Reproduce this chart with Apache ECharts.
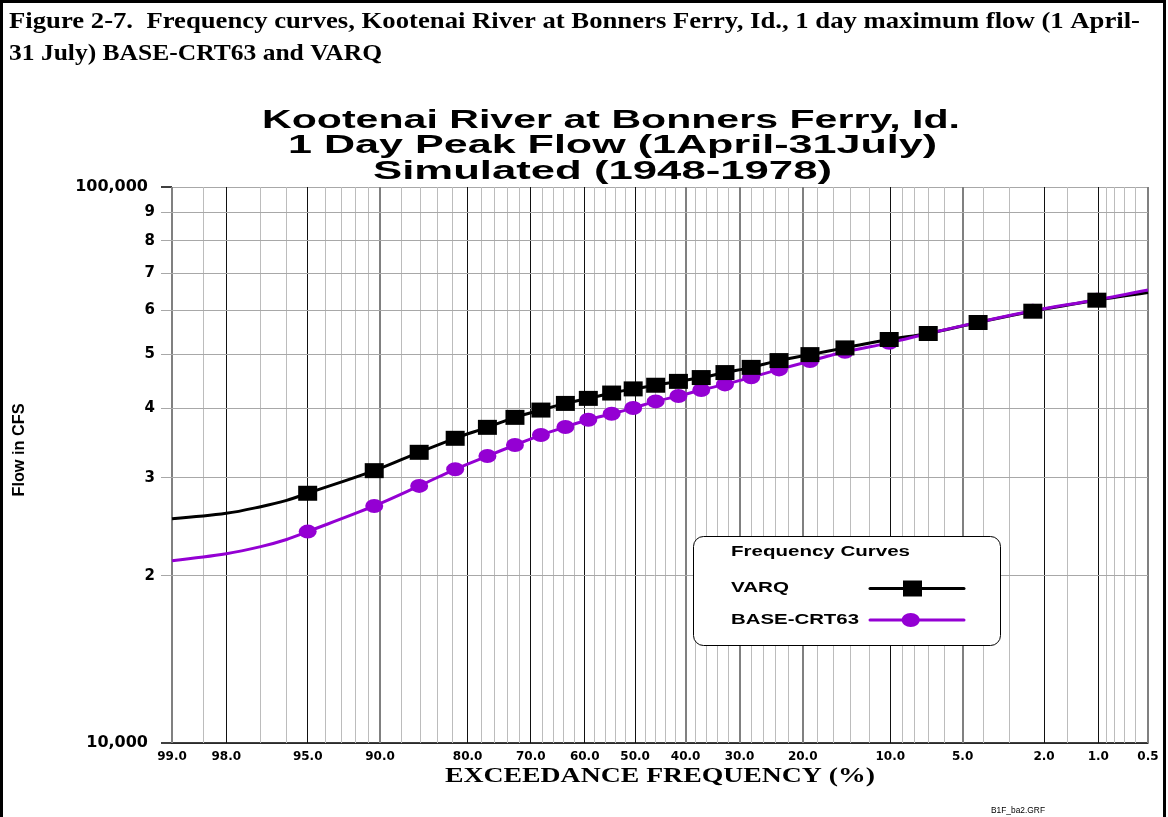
<!DOCTYPE html>
<html><head><meta charset="utf-8">
<script src="https://cdn.jsdelivr.net/npm/echarts@6/dist/echarts.min.js"></script>
<style>html,body{margin:0;padding:0;background:#fff;}#c{width:1168px;height:817px;}</style>
</head><body><div id="c"></div>
<script>
// ---------------- data ----------------
// exceedance frequency (%) of the plotted points (markers)
const exceedancePct = [95.0, 90.5, 86.1, 81.7, 77.1, 72.7, 68.2, 63.7, 59.3, 54.7, 50.4, 45.9, 41.4, 37.0, 32.6, 28.0, 23.5, 19.0, 14.6, 10.1, 7.05, 4.25, 2.29, 1.02];
const varqFlow = [28130, 30890, 33330, 35320, 36960, 38520, 39700, 40810, 41670, 42600, 43340, 44000, 44710, 45420, 46370, 47380, 48730, 49950, 51360, 53180, 54520, 57060, 59790, 62580];
const baseFlow = [24000, 26690, 29000, 31070, 32820, 34350, 35800, 37010, 38140, 39100, 40030, 41150, 42070, 43130, 44150, 45460, 46980, 48630, 50530, 52440, 54500, 57100, 59900, 62700];
// curve points without markers (tails of the frequency curves)
const curveTailPct = [99.0, 98.0, 97.0, 96.0, 0.5];
const varqTailFlow = [25310, 25890, 26610, 27310, 64600];
const baseTailFlow = [21280, 21900, 22550, 23230, 65300];

// axis ticks
const xTickPct = [99, 98, 95, 90, 80, 70, 60, 50, 40, 30, 20, 10, 5, 2, 1, 0.5];
const xTickLabels = ['99.0', '98.0', '95.0', '90.0', '80.0', '70.0', '60.0', '50.0', '40.0', '30.0', '20.0', '10.0', '5.0', '2.0', '1.0', '0.5'];
const gridMinorPct = [98.5, 97, 96, 94, 93, 92, 91, 88, 86, 84, 82, 78, 76, 74, 72, 68, 66, 64, 62, 58, 56, 54, 52, 48, 46, 44, 42, 38, 36, 34, 32, 28, 26, 24, 22, 18, 16, 14, 12, 9, 8, 7, 6, 4, 3, 1.5, 0.9, 0.8, 0.7, 0.6];
const gridBlackPct = [98, 95, 80, 70, 60, 50, 10, 2, 1];
const gridGrayPct = [99, 90, 40, 30, 20, 5, 0.5];
const yMinorFlow = [20000, 30000, 40000, 50000, 60000, 70000, 80000, 90000];
const yMinorLabels = ['2', '3', '4', '5', '6', '7', '8', '9'];
const Y_MIN = 10000, Y_MAX = 100000;

// ---------------- probability (normal) scale transform ----------------
function normInv(p) {
  const a = [-3.969683028665376e+01, 2.209460984245205e+02, -2.759285104469687e+02, 1.383577518672690e+02, -3.066479806614716e+01, 2.506628277459239e+00];
  const b = [-5.447609879822406e+01, 1.615858368580409e+02, -1.556989798598866e+02, 6.680131188771972e+01, -1.328068155288572e+01];
  const c = [-7.784894002430293e-03, -3.223964580411365e-01, -2.400758277161838e+00, -2.549732539343734e+00, 4.374664141464968e+00, 2.938163982698783e+00];
  const d = [7.784695709041462e-03, 3.224671290700398e-01, 2.445134137142996e+00, 3.754408661907416e+00];
  const pl = 0.02425, ph = 1 - pl; let q, r;
  if (p < pl) { q = Math.sqrt(-2 * Math.log(p)); return (((((c[0]*q+c[1])*q+c[2])*q+c[3])*q+c[4])*q+c[5]) / ((((d[0]*q+d[1])*q+d[2])*q+d[3])*q+1); }
  if (p <= ph) { q = p - 0.5; r = q*q; return (((((a[0]*r+a[1])*r+a[2])*r+a[3])*r+a[4])*r+a[5])*q / (((((b[0]*r+b[1])*r+b[2])*r+b[3])*r+b[4])*r+1); }
  q = Math.sqrt(-2 * Math.log(1 - p)); return -(((((c[0]*q+c[1])*q+c[2])*q+c[3])*q+c[4])*q+c[5]) / ((((d[0]*q+d[1])*q+d[2])*q+d[3])*q+1);
}
const probit = pct => normInv(1 - pct / 100);
const X_MIN = probit(99), X_MAX = probit(0.5);
const xTickZ = xTickPct.map(probit);

function curve(pcts, flows, tailP, tailF) {
  const pts = pcts.map((p, i) => [probit(p), flows[i]]).concat(tailP.map((p, i) => [probit(p), tailF[i]]));
  pts.sort((u, v) => u[0] - v[0]);
  return pts;
}
const markers = (pcts, flows) => pcts.map((p, i) => [probit(p), flows[i]]);

// ---------------- text fitting helper ----------------
const mctx = document.createElement('canvas').getContext('2d');
function fitText(str, font, targetW) { mctx.font = font; return targetW / mctx.measureText(str).width; }
function txt(str, x, y, size, weight, family, w, align, extra) {
  const font = weight + ' ' + size + 'px ' + family;
  const o = { type: 'text', x: x, y: y, scaleX: fitText(str, font, w), z: 100,
    style: { text: str, font: font, fill: '#000', align: align, textAlign: align, verticalAlign: 'middle', textVerticalAlign: 'middle' } };
  return Object.assign(o, extra || {});
}
const SANS = '"Liberation Sans"', SERIF = '"Liberation Serif"';
const PURPLE = '#9400d3';

const gridData = []
  .concat(gridMinorPct.map(p => [probit(p), Y_MIN, 0]))
  .concat(gridGrayPct.map(p => [probit(p), Y_MIN, 2]))
  .concat(gridBlackPct.map(p => [probit(p), Y_MIN, 1]));
const GRID_STYLES = [{ c: '#bcbcbc', w: 1 }, { c: '#111111', w: 1 }, { c: '#808080', w: 2 }];

const chart = echarts.init(document.getElementById('c'), null, { renderer: 'canvas' });
chart.setOption({
  animation: false,
  backgroundColor: '#ffffff',
  grid: { left: 172, right: 20, top: 187, bottom: 74, containLabel: false, outerBoundsMode: 'none' },
  xAxis: {
    type: 'value', min: X_MIN, max: X_MAX,
    axisLine: { show: true, onZero: false, lineStyle: { color: '#000', width: 1.5 } },
    axisTick: { show: false },
    splitLine: { show: false },
    axisLabel: {
      customValues: xTickZ, margin: 8, color: '#000', fontFamily: 'DejaVu Sans', fontWeight: 'bold', fontSize: 12,
      formatter: v => { let bi = 0, bd = 1e9; xTickZ.forEach((z, i) => { const d = Math.abs(z - v); if (d < bd) { bd = d; bi = i; } }); return xTickLabels[bi]; }
    }
  },
  yAxis: {
    type: 'log', logBase: 10, min: Y_MIN, max: Y_MAX,
    axisLine: { show: false, onZero: false },
    axisTick: { show: true, length: 11, lineStyle: { color: '#000', width: 1.5 } },
    splitLine: { show: true, lineStyle: { color: '#a8a8a8', width: 1 } },
    axisLabel: { margin: 24, color: '#000', fontFamily: 'DejaVu Sans', fontWeight: 'bold', fontSize: 16,
      formatter: v => Math.round(v).toLocaleString('en-US') }
  },
  series: [
    { type: 'custom', name: 'vgrid', silent: true, clip: false, encode: { x: 0, y: 1 }, data: gridData, z: 1,
      renderItem: (params, api) => {
        const z = api.value(0), st = GRID_STYLES[api.value(2)];
        const pb = api.coord([z, Y_MIN]), pt = api.coord([z, Y_MAX]);
        const x = st.w === 1 ? Math.round(pb[0] - 0.5) + 0.5 : Math.round(pb[0]);
        return { type: 'line', shape: { x1: x, y1: pt[1], x2: x, y2: pb[1] }, style: { stroke: st.c, lineWidth: st.w } };
      } },
    { type: 'custom', name: 'hgrid', silent: true, clip: false, encode: { x: 0, y: 1 }, z: 1,
      data: yMinorFlow.map(f => [X_MIN, f]),
      renderItem: (params, api) => {
        const f = api.value(1);
        const pl = api.coord([X_MIN, f]), pr = api.coord([X_MAX, f]);
        const y = Math.round(pl[1] - 0.5) + 0.5;
        return { type: 'group', children: [
          { type: 'line', shape: { x1: pl[0] - 11, y1: y, x2: pr[0], y2: y }, style: { stroke: '#a8a8a8', lineWidth: 1 } },
          { type: 'text', x: pl[0] - 17, y: pl[1],
            style: { text: yMinorLabels[params.dataIndex], fill: '#000', font: 'bold 15px "DejaVu Sans"', align: 'right', textAlign: 'right', verticalAlign: 'middle', textVerticalAlign: 'middle' } }
        ] };
      } },
    { type: 'line', name: 'VARQ', data: curve(exceedancePct, varqFlow, curveTailPct, varqTailFlow), smooth: 0.35,
      showSymbol: false, symbol: 'none', lineStyle: { color: '#000', width: 3 }, z: 3 },
    { type: 'line', name: 'BASE-CRT63', data: curve(exceedancePct, baseFlow, curveTailPct, baseTailFlow), smooth: 0.35,
      showSymbol: false, symbol: 'none', lineStyle: { color: PURPLE, width: 3 }, z: 3 },
    { type: 'scatter', name: 'BASE-CRT63 pts', data: markers(exceedancePct, baseFlow), symbol: 'circle', symbolSize: [18, 14],
      itemStyle: { color: PURPLE, opacity: 1 }, z: 4 },
    { type: 'scatter', name: 'VARQ pts', data: markers(exceedancePct, varqFlow), symbol: 'rect', symbolSize: [19, 15],
      itemStyle: { color: '#000', opacity: 1 }, z: 5 }
  ],
  graphic: [
    // outer frame
    { type: 'line', shape: { x1: 0, y1: 1.5, x2: 1166, y2: 1.5 }, style: { stroke: '#000', lineWidth: 3 }, z: 100 },
    { type: 'line', shape: { x1: 1.5, y1: 0, x2: 1.5, y2: 817 }, style: { stroke: '#000', lineWidth: 3 }, z: 100 },
    { type: 'line', shape: { x1: 1164.5, y1: 0, x2: 1164.5, y2: 817 }, style: { stroke: '#000', lineWidth: 3 }, z: 100 },
    // figure caption
    txt('Figure 2-7.  Frequency curves, Kootenai River at Bonners Ferry, Id., 1 day maximum flow (1 April-', 9, 22, 24, 'bold', SERIF, 1131, 'left'),
    txt('31 July) BASE-CRT63 and VARQ', 9, 54, 24, 'bold', SERIF, 373, 'left'),
    // chart title
    txt('Kootenai River at Bonners Ferry, Id.', 611, 121, 25, 'bold', SANS, 698, 'center'),
    txt('1 Day Peak Flow (1April-31July)', 612.5, 146, 25, 'bold', SANS, 649, 'center'),
    txt('Simulated (1948-1978)', 602.5, 172, 25, 'bold', SANS, 459, 'center'),
    // axis titles
    txt('Flow in CFS', 19, 450, 17, 'bold', SANS, 93, 'center', { rotation: Math.PI / 2 }),
    txt('EXCEEDANCE FREQUENCY (%)', 660, 777, 21, 'bold', SERIF, 430, 'center'),
    txt('B1F_ba2.GRF', 991, 811, 9, 'normal', SANS, 54, 'left'),
    // legend box
    { type: 'rect', shape: { x: 693.5, y: 536.5, width: 307, height: 109, r: 10 }, style: { fill: '#fff', stroke: '#000', lineWidth: 1 }, z: 90 },
    txt('Frequency Curves', 731, 552, 15, 'bold', SANS, 179, 'left'),
    txt('VARQ', 731, 588, 15, 'bold', SANS, 58, 'left'),
    txt('BASE-CRT63', 731, 620, 15, 'bold', SANS, 128, 'left'),
    { type: 'line', shape: { x1: 870, y1: 588.5, x2: 964, y2: 588.5 }, style: { stroke: '#000', lineWidth: 3, lineCap: 'round' }, z: 100 },
    { type: 'rect', shape: { x: 903, y: 580.5, width: 19, height: 16 }, style: { fill: '#000' }, z: 101 },
    { type: 'line', shape: { x1: 870, y1: 620, x2: 964, y2: 620 }, style: { stroke: PURPLE, lineWidth: 3, lineCap: 'round' }, z: 100 },
    { type: 'ellipse', shape: { cx: 910.7, cy: 620, rx: 9, ry: 7 }, style: { fill: PURPLE }, z: 101 }
  ]
});
</script>
</body></html>
